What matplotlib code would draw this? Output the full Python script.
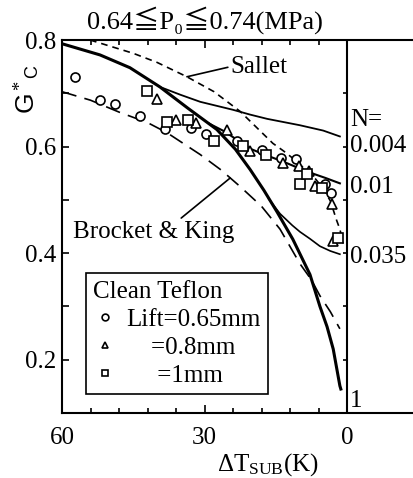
import numpy as np
import matplotlib
matplotlib.use("Agg")
import matplotlib.pyplot as plt

plt.rcParams['font.family'] = ['Liberation Serif', 'DejaVu Serif', 'DejaVu Sans']
plt.rcParams['mathtext.fontset'] = 'custom'
plt.rcParams['mathtext.rm'] = 'Liberation Serif'
plt.rcParams['mathtext.it'] = 'Liberation Serif:italic'

# measured data, (dT_sub [K], G*c)
lift065_dt = [57.2, 52.0, 48.8, 43.5, 38.3, 32.9, 29.6, 23.1, 18.0, 13.8, 10.7, 4.6, 3.4]
lift065_g = [0.730, 0.687, 0.679, 0.657, 0.633, 0.635, 0.624, 0.610, 0.594, 0.578, 0.576, 0.529, 0.513]
lift08_dt = [39.9, 36.0, 31.7, 25.3, 20.4, 13.4, 10.2, 7.9, 6.7, 3.2, 2.9]
lift08_g = [0.689, 0.650, 0.644, 0.632, 0.591, 0.570, 0.563, 0.555, 0.526, 0.492, 0.422]
lift1_dt = [42.2, 37.8, 33.4, 28.1, 22.0, 17.0, 10.0, 8.5, 5.3, 1.8]
lift1_g = [0.704, 0.647, 0.649, 0.610, 0.601, 0.585, 0.529, 0.549, 0.523, 0.429]

# model curves for several N
n1_dt = [60, 52, 45.7, 39.4, 33.5, 27.4, 23.5, 20.4, 17.5, 14.7, 11.4, 7.8, 5.7, 4.2, 2.9, 1.5, 1.3]
n1_g = [0.793, 0.772, 0.748, 0.712, 0.672, 0.632, 0.595, 0.557, 0.518, 0.477, 0.426, 0.360, 0.300, 0.262, 0.220, 0.151, 0.145]
n0004_dt = [39.4, 35, 30.9, 28.6, 24, 20.4, 16.8, 9.9, 5, 1.5]
n0004_g = [0.712, 0.697, 0.684, 0.679, 0.669, 0.660, 0.652, 0.640, 0.630, 0.619]
n001_dt = [29, 25.7, 20.4, 16.8, 13.5, 8.4, 4.5, 1.5]
n001_g = [0.643, 0.628, 0.596, 0.583, 0.572, 0.553, 0.541, 0.531]
n0035_dt = [16.5, 14.1, 11.5, 9.9, 7.8, 5.7, 3.5, 1.5]
n0035_g = [0.502, 0.474, 0.452, 0.440, 0.427, 0.413, 0.404, 0.398]

# correlations
sallet_dt = [54.1, 45, 40, 33.7, 28, 22.5, 15.6, 13.4, 11.4, 8.5, 6.7, 5.1, 3.5, 2.2, 1.5, 0.8]
sallet_g = [0.800, 0.775, 0.758, 0.731, 0.703, 0.666, 0.606, 0.592, 0.578, 0.555, 0.540, 0.522, 0.498, 0.462, 0.445, 0.418]
bk_dt = [60, 54, 47.8, 42, 37.9, 30.9, 26.5, 22.5, 18, 14.1, 9.9, 7.5, 5.7, 3.5, 1.5]
bk_g = [0.703, 0.687, 0.664, 0.645, 0.626, 0.585, 0.556, 0.525, 0.488, 0.445, 0.380, 0.350, 0.320, 0.290, 0.258]

n_labels = ['N=', '0.004', '0.01', '0.035', '1']
n_label_y = [0.650, 0.602, 0.525, 0.393, 0.123]

fs = 18
fig = plt.figure(figsize=(4.13, 4.78), dpi=100)
ax = fig.add_axes([62/413, 65/478, 351/413, 373/478])

ax.plot(n1_dt, n1_g, color='black', lw=2.2)
ax.plot(n0004_dt, n0004_g, color='black', lw=1.3)
ax.plot(n001_dt, n001_g, color='black', lw=1.5)
ax.plot(n0035_dt, n0035_g, color='black', lw=1.2)
ax.plot(sallet_dt, sallet_g, color='black', lw=1.2, dashes=(4, 3))
ax.plot(bk_dt, bk_g, color='black', lw=1.2, dashes=(9, 5))

mk = dict(ls='none', mfc='white', mec='black', mew=1.2, ms=6.5)
ax.plot(lift065_dt, lift065_g, marker='o', label='Lift=0.65mm', **mk)
ax.plot(lift08_dt, lift08_g, marker='^', label='    =0.8mm', **mk)
ax.plot(lift1_dt, lift1_g, marker='s', label='     =1mm', **mk)

ax.set_xlim(60, 60 - 351/4.75)
ax.set_ylim(0.1, 0.8)
ax.spines['right'].set_visible(False)
for s in ['left', 'top', 'bottom']:
    ax.spines[s].set_linewidth(1.5)
ax.axvline(0, color='black', lw=1.5)
ax.hlines(np.arange(0.2, 0.75, 0.1), 0, 0.85, color='black', lw=1.2)

ax.set_xticks([60, 30, 0])
ax.set_xticks(np.arange(0, 61, 6), minor=True)
ax.set_yticks([0.2, 0.4, 0.6, 0.8])
ax.set_yticks([0.3, 0.5, 0.7], minor=True)
ax.set_xticklabels(['60', '30', '0'])
ax.set_yticklabels(['0.2', '0.4', '0.6', '0.8'])
ax.tick_params(which='both', direction='in', top=True, right=False, labelsize=fs, width=1.2)
ax.tick_params(axis='x', which='major', length=6, pad=10)
ax.tick_params(axis='x', which='minor', length=3.5)
ax.tick_params(axis='y', which='both', length=5, pad=4)

for lab, y in zip(n_labels, n_label_y):
    ax.text(-0.6, y, lab, fontsize=fs, ha='left', va='center')

ax.annotate('Sallet', xy=(33.7, 0.731), xytext=(24.5, 0.750), fontsize=fs,
            ha='left', va='center',
            arrowprops=dict(arrowstyle='-', lw=1.2, color='black', relpos=(0, 0.5),
                            shrinkA=0, shrinkB=0))
ax.annotate('Brocket & King', xy=(24.6, 0.541), xytext=(57.7, 0.440), fontsize=fs,
            ha='left', va='center',
            arrowprops=dict(arrowstyle='-', lw=1.2, color='black', relpos=(0.65, 1.0),
                            shrinkA=0, shrinkB=0))

ax.text(0.407, 1.054, '0.64≦P₀≦0.74(MPa)', transform=ax.transAxes,
        fontsize=19, ha='center', va='center',
        family=['Liberation Serif', 'Noto Sans CJK JP', 'DejaVu Serif'])
ax.text(0.587, -0.137, 'ΔT$_{\\mathrm{SUB}}$(K)', transform=ax.transAxes,
        fontsize=fs, ha='center', va='center')

fig.text(27/413, 1 - 97/478, 'G$^*$', rotation=90, fontsize=19, ha='center', va='center',
         family=['Liberation Sans', 'DejaVu Sans'])
fig.text(33/413, 1 - 72/478, 'C', rotation=90, fontsize=13, ha='center', va='center',
         family=['Liberation Sans', 'DejaVu Sans'])

leg = ax.legend(title='Clean Teflon', loc='upper left', bbox_to_anchor=(0.068, 0.375),
                fontsize=fs, title_fontsize=fs, alignment='left', markerscale=0.75,
                handlelength=0.9, handletextpad=0.4, borderpad=0.3, labelspacing=0.22,
                borderaxespad=0, fancybox=False, framealpha=1, edgecolor='black')
leg.get_frame().set_linewidth(1.2)

fig.savefig('out.png', dpi=100)
